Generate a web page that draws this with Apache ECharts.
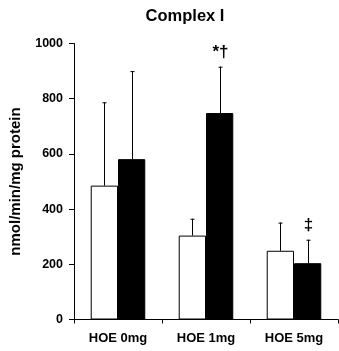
<!DOCTYPE html>
<html>
<head>
<meta charset="utf-8">
<script src="https://cdn.jsdelivr.net/npm/echarts@6/dist/echarts.min.js"></script>
<style>
  html, body { margin: 0; padding: 0; background: #fff; }
  #chart { width: 339px; height: 351px; }
</style>
</head>
<body>
<div id="chart"></div>
<script>
var categories = ['HOE 0mg', 'HOE 1mg', 'HOE 5mg'];
var whiteMean = [485, 304, 249];
var whiteErr = [787, 365, 351];   // upper end of the error bar
var blackMean = [581, 748, 204];
var blackErr = [900, 916, 289];
var blackMarks = ['', '*\u2020', '\u2021'];
var yTicks = [0, 200, 400, 600, 800, 1000];

var FONT = 'Liberation Sans, Arial, sans-serif';
var CAT_GAP = 0.38;

var myChart = echarts.init(document.getElementById('chart'));

// upper error bar with cap, shifted left (-1) or right (+1) of category centre
function errorRenderer(side, marks) {
  return function (params, api) {
    var idx = api.value(0);
    var base = api.coord([idx, api.value(1)]);
    var top = api.coord([idx, api.value(2)]);
    var catW = api.size([1, 0])[0];
    var barW = catW * (1 - CAT_GAP) / 2;
    var x = Math.round(base[0] + side * barW / 2) + 0.5;
    var style = { stroke: '#000', lineWidth: 1 };
    var children = [
      { type: 'line', shape: { x1: x, y1: base[1], x2: x, y2: top[1] }, style: style },
      { type: 'line', shape: { x1: x - 2, y1: top[1] + 0.5, x2: x + 2, y2: top[1] + 0.5 }, style: style }
    ];
    var mark = marks && marks[params.dataIndex];
    if (mark) {
      children.push({
        type: 'text',
        style: {
          text: mark, x: x, y: top[1] - 6,
          align: 'center', verticalAlign: 'bottom',
          font: 'bold 17px ' + FONT, fill: '#000'
        }
      });
    }
    return { type: 'group', children: children };
  };
}

myChart.setOption({
  animation: false,
  title: {
    text: 'Complex I',
    left: 180, top: 3, textAlign: 'center',
    textStyle: { fontFamily: FONT, fontSize: 16.5, fontWeight: 'bold', color: '#000' }
  },
  grid: { left: 70, right: 1, top: 43.5, bottom: 31.5 },
  xAxis: {
    type: 'category',
    data: categories,
    axisLine: { lineStyle: { color: '#000', width: 1 } },
    axisTick: { show: true, length: 4, lineStyle: { color: '#000' } },
    axisLabel: { margin: 12, fontFamily: FONT, fontSize: 13, fontWeight: 'bold', color: '#000' }
  },
  yAxis: {
    type: 'value',
    min: 0, max: 1000, interval: 200,
    name: 'nmol/min/mg protein',
    nameLocation: 'middle',
    nameGap: 51,
    nameTextStyle: { fontFamily: FONT, fontSize: 15, fontWeight: 'bold', color: '#000' },
    axisLine: { show: true, lineStyle: { color: '#000', width: 1 } },
    axisTick: { show: true, length: 5, lineStyle: { color: '#000' } },
    splitLine: { show: false },
    axisLabel: {
      margin: 11, fontFamily: FONT, fontSize: 12.5, fontWeight: 'bold', color: '#000',
      formatter: function (v) { return yTicks.indexOf(v) >= 0 ? String(v) : ''; }
    }
  },
  series: [
    {
      type: 'bar', data: whiteMean, barGap: '0%', barCategoryGap: (CAT_GAP * 100) + '%',
      itemStyle: { color: '#fff', borderColor: '#000', borderWidth: 1 }, z: 2
    },
    {
      type: 'bar', data: blackMean,
      itemStyle: { color: '#000', borderColor: '#000', borderWidth: 1 }, z: 2
    },
    {
      type: 'custom', z: 1,
      renderItem: errorRenderer(-1, null),
      encode: { x: 0, y: 2 },
      data: categories.map(function (c, i) { return [i, whiteMean[i], whiteErr[i]]; })
    },
    {
      type: 'custom', z: 1,
      renderItem: errorRenderer(1, blackMarks),
      encode: { x: 0, y: 2 },
      data: categories.map(function (c, i) { return [i, blackMean[i], blackErr[i]]; })
    }
  ]
});
</script>
</body>
</html>
